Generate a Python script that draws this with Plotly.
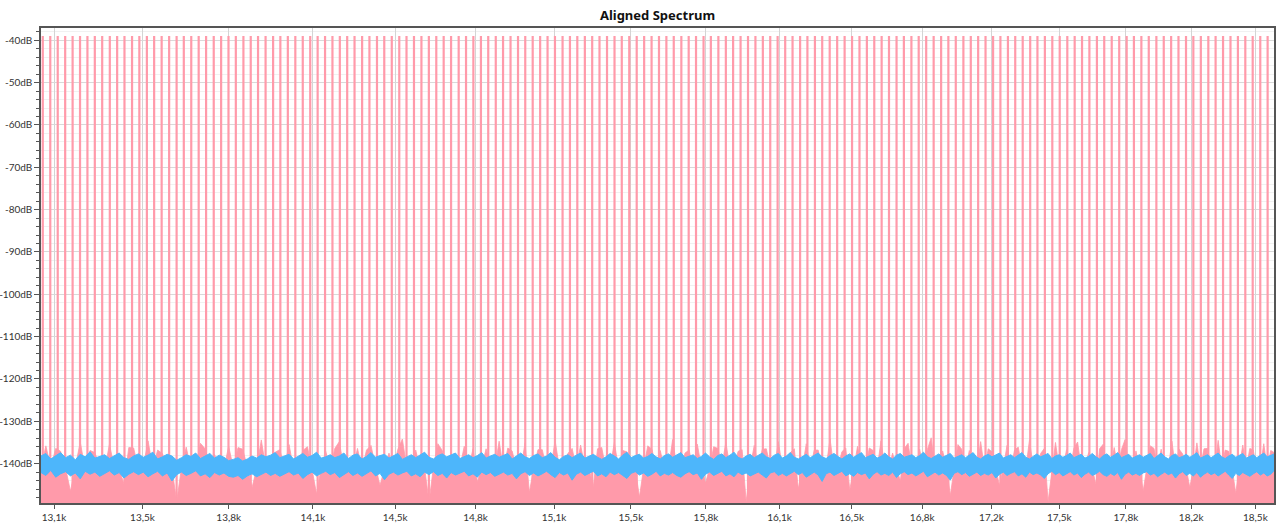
import numpy as np
import plotly.graph_objects as go

# ---------------- data ----------------
title_text = "Aligned Spectrum"

# x tick positions (Hz) and their labels
x_tick_vals = [13120, 13456, 13792, 14128, 14464, 14800, 15136, 15472, 15808,
               16144, 16480, 16816, 17152, 17488, 17824, 18160, 18496]
x_tick_text = ["13,1k", "13,5k", "13,8k", "14,1k", "14,5k", "14,8k", "15,1k", "15,5k", "15,8k",
               "16,1k", "16,5k", "16,8k", "17,2k", "17,5k", "17,8k", "18,2k", "18,5k"]

y_tick_vals = [-40, -50, -60, -70, -80, -90, -100, -110, -120, -130, -140]
y_tick_text = ["-40dB", "-50dB", "-60dB", "-70dB", "-80dB", "-90dB", "-100dB",
               "-110dB", "-120dB", "-130dB", "-140dB"]

# multitone frequencies (Hz) and level (dB)
tone_freqs = [
    13078, 13106, 13134, 13162, 13190, 13218, 13246, 13274, 13302, 13331,
    13359, 13387, 13416, 13444, 13473, 13501, 13530, 13559, 13588, 13616,
    13645, 13674, 13703, 13733, 13762, 13791, 13820, 13850, 13879, 13908,
    13938, 13968, 13997, 14027, 14057, 14087, 14117, 14147, 14177, 14207,
    14237, 14267, 14297, 14328, 14358, 14389, 14419, 14450, 14481, 14511,
    14542, 14573, 14604, 14635, 14666, 14697, 14729, 14760, 14791, 14823,
    14854, 14886, 14917, 14949, 14981, 15012, 15044, 15076, 15108, 15140,
    15173, 15205, 15237, 15270, 15302, 15334, 15367, 15400, 15432, 15465,
    15498, 15531, 15564, 15597, 15630, 15663, 15697, 15730, 15763, 15797,
    15830, 15864, 15898, 15931, 15965, 15999, 16033, 16067, 16101, 16135,
    16170, 16204, 16239, 16273, 16308, 16342, 16377, 16412, 16447, 16482,
    16517, 16552, 16587, 16622, 16657, 16693, 16728, 16764, 16799, 16835,
    16871, 16907, 16942, 16978, 17015, 17051, 17087, 17123, 17160, 17196,
    17233, 17269, 17306, 17343, 17379, 17416, 17453, 17490, 17528, 17565,
    17602, 17639, 17677, 17714, 17752, 17790, 17828, 17865, 17903, 17941,
    17980, 18018, 18056, 18094, 18133, 18171, 18210, 18249, 18287, 18326,
    18365, 18404, 18443, 18482, 18522, 18561,
]
tone_level = -39.0
floor_level = -150.0

# noise-floor bins
freq_start = 13071
freq_stop = 18596
n_bins = 300

# reference (blue) spectrum: per-bin upper / lower envelope (dB)
blue_hi = [
    -138.2, -137.6, -138.9, -138.1, -137.4, -138.6, -138.0, -139.1, -137.8, -138.4, -137.2, -138.7, -138.3, -137.9, -138.8, -138.1, -137.5, -138.6, -139.0, -138.2,
    -137.7, -138.5, -138.0, -137.3, -138.9, -138.4, -137.8, -138.2, -139.2, -138.6, -137.9, -138.3, -137.5, -138.8, -138.1, -137.6, -138.7, -138.0, -138.5, -139.3,
    -139.0, -138.6, -139.4, -138.9, -138.2, -138.7, -137.9, -138.4, -138.0, -137.4, -138.6, -138.2, -137.8, -138.9, -138.3, -137.6, -138.5, -138.1, -137.3, -138.7,
    -138.4, -137.9, -138.6, -138.2, -137.5, -138.8, -138.0, -137.7, -138.9, -138.3, -137.4, -138.5, -138.1, -137.8, -138.7, -138.2, -137.6, -139.0, -138.4, -137.9,
    -138.6, -138.0, -137.3, -138.5, -138.9, -138.1, -137.7, -138.4, -138.0, -137.5, -138.8, -138.3, -137.9, -138.6, -138.1, -137.4, -138.7, -138.2, -137.8, -138.5,
    -138.0, -137.6, -138.9, -138.3, -137.5, -138.4, -138.8, -138.1, -137.7, -138.6, -138.2, -137.4, -138.5, -139.1, -138.3, -137.9, -138.6, -138.0, -137.5, -138.7,
    -138.3, -137.8, -138.5, -139.0, -138.4, -137.6, -138.2, -138.9, -138.0, -137.3, -138.6, -138.1, -137.8, -138.7, -138.3, -137.6, -138.4, -138.9, -138.1, -137.7,
    -138.5, -138.0, -137.4, -138.6, -138.2, -137.9, -138.8, -138.3, -137.5, -138.4, -139.0, -138.1, -137.7, -138.6, -138.0, -137.3, -138.5, -138.9, -138.2, -137.8,
    -138.6, -138.1, -137.5, -138.4, -138.8, -138.0, -137.6, -138.7, -138.2, -137.4, -138.5, -138.9, -138.3, -137.8, -138.6, -138.0, -137.5, -138.4, -138.8, -138.1,
    -137.6, -138.3, -138.9, -138.2, -137.7, -138.5, -138.0, -137.4, -138.6, -138.1, -137.8, -138.7, -138.3, -137.5, -138.4, -138.9, -138.0, -137.6, -138.5, -138.2,
    -137.9, -138.6, -138.1, -137.3, -138.4, -138.8, -138.2, -137.7, -138.5, -138.0, -137.6, -138.7, -138.3, -137.9, -138.6, -138.1, -137.4, -138.5, -138.9, -138.2,
    -137.8, -138.4, -138.0, -137.5, -138.7, -138.2, -137.9, -138.6, -138.1, -137.4, -138.5, -138.9, -138.3, -137.7, -138.4, -138.0, -137.6, -138.8, -138.2, -137.9,
    -138.5, -138.1, -137.5, -138.6, -138.2, -137.8, -138.7, -138.3, -137.6, -138.4, -138.9, -138.1, -137.7, -138.5, -138.0, -137.4, -138.6, -138.2, -137.8, -138.7,
    -138.3, -137.9, -138.5, -138.0, -137.6, -138.8, -138.2, -137.5, -138.4, -138.9, -138.1, -137.7, -138.6, -138.3, -137.8, -138.5, -138.0, -137.4, -138.7, -138.2,
    -137.9, -138.6, -138.1, -137.5, -138.4, -138.8, -138.2, -137.8, -138.5, -138.0, -137.6, -138.7, -138.3, -137.9, -138.6, -138.1, -137.5, -138.4, -138.0, -137.7,
]
blue_lo = [
    -142.1, -142.8, -141.6, -143.2, -142.4, -141.9, -142.9, -142.2, -143.6, -141.8, -142.5, -142.0, -143.0, -142.3, -141.7, -142.7, -142.1, -143.4, -142.5, -141.9,
    -142.6, -142.0, -143.1, -142.4, -141.8, -142.9, -142.2, -144.1, -142.6, -142.0, -142.8, -142.3, -141.7, -142.9, -142.4, -143.3, -142.1, -142.7, -142.2, -143.0,
    -143.2, -142.8, -143.7, -142.9, -142.4, -143.1, -142.5, -142.0, -142.8, -142.3, -143.0, -142.4, -141.9, -142.7, -142.2, -143.5, -142.6, -142.0, -142.9, -142.3,
    -141.8, -142.6, -142.1, -143.3, -142.5, -141.9, -142.8, -142.2, -143.0, -142.4, -141.7, -142.9, -142.3, -143.8, -142.5, -142.0, -142.7, -142.2, -141.8, -142.9,
    -142.4, -143.1, -142.0, -142.6, -141.9, -142.8, -142.3, -143.4, -142.1, -142.7, -142.2, -141.8, -142.9, -142.4, -143.2, -142.0, -142.6, -142.1, -143.0, -142.5,
    -142.0, -142.7, -142.3, -143.6, -142.4, -141.9, -142.8, -142.2, -142.9, -142.4, -141.8, -142.6, -143.3, -142.1, -142.7, -142.2, -143.9, -142.5, -142.0, -142.8,
    -142.3, -141.8, -142.9, -142.4, -143.1, -142.0, -142.6, -142.1, -142.8, -143.5, -142.3, -141.9, -142.7, -142.2, -143.0, -142.5, -141.8, -142.9, -142.3, -142.7,
    -142.1, -142.8, -143.2, -142.4, -141.9, -142.6, -142.2, -143.7, -142.5, -142.0, -142.8, -142.3, -141.8, -142.9, -142.4, -143.1, -142.0, -142.6, -142.2, -142.9,
    -142.5, -142.0, -142.7, -143.4, -142.2, -141.9, -142.8, -142.3, -142.9, -142.4, -141.8, -142.6, -142.1, -143.2, -142.5, -142.0, -142.7, -144.2, -142.4, -142.0,
    -142.8, -142.2, -141.8, -142.9, -142.4, -143.0, -142.1, -142.6, -142.2, -143.6, -142.5, -141.9, -142.7, -142.3, -142.8, -142.0, -143.3, -142.4, -141.9, -142.6,
    -142.2, -142.9, -142.4, -141.8, -143.1, -142.5, -142.0, -142.7, -142.2, -142.8, -143.9, -142.3, -141.9, -142.6, -142.1, -143.0, -142.5, -142.0, -142.8, -142.3,
    -142.7, -142.1, -143.4, -142.5, -142.0, -142.8, -142.3, -141.9, -142.9, -142.4, -143.2, -142.0, -142.6, -142.2, -142.7, -143.5, -142.4, -141.8, -142.6, -142.1,
    -142.9, -142.3, -141.9, -142.7, -142.2, -143.3, -142.5, -142.0, -142.8, -142.4, -141.8, -142.6, -143.0, -142.3, -142.8, -142.1, -143.7, -142.5, -142.0, -142.7,
    -142.3, -142.8, -142.2, -141.9, -142.7, -142.3, -143.1, -142.5, -142.0, -142.6, -142.2, -143.4, -142.4, -141.9, -142.8, -142.3, -142.9, -142.1, -143.2, -142.5,
    -142.0, -142.6, -142.2, -142.9, -142.4, -141.8, -142.7, -143.5, -142.3, -142.8, -142.1, -142.6, -143.0, -142.4, -141.9, -142.7, -142.2, -142.9, -142.5, -141.6,
]
# measured (pink) spectrum noise floor, per bin (dB)
pink_floor = [
    -141.2, -135.8, -140.9, -136.4, -137.1, -141.0, -146.5, -140.8, -134.9, -141.3, -136.9, -137.4, -140.7, -141.5, -135.4, -141.0, -141.2, -144.8, -136.2, -136.3,
    -141.3, -140.8, -134.6, -141.1, -136.8, -137.6, -140.9, -141.2, -148.9, -141.0, -136.1, -141.3, -140.8, -135.2, -136.5, -141.5, -137.8, -140.9, -141.2, -135.9,
    -141.0, -136.2, -136.6, -140.8, -145.7, -141.1, -134.4, -141.3, -140.9, -137.3, -136.7, -141.0, -135.5, -141.4, -140.8, -136.9, -136.0, -141.3, -147.2, -140.9,
    -137.1, -141.2, -136.4, -134.8, -141.4, -140.9, -141.1, -136.4, -141.3, -136.8, -135.7, -140.8, -145.1, -141.2, -137.5, -141.0, -136.6, -134.2, -141.1, -140.9,
    -136.8, -141.3, -141.0, -149.0, -140.8, -135.3, -136.9, -141.4, -137.4, -141.0, -140.9, -135.9, -141.3, -136.5, -144.3, -140.8, -136.5, -141.2, -141.0, -134.7,
    -141.4, -136.3, -137.0, -141.1, -141.3, -135.1, -146.8, -141.0, -136.7, -136.7, -141.2, -141.4, -134.5, -141.0, -140.9, -137.6, -136.4, -141.1, -135.6, -140.8,
    -141.2, -145.4, -136.5, -136.2, -141.4, -140.9, -135.0, -141.1, -136.9, -137.2, -140.8, -141.2, -147.9, -141.0, -135.8, -136.6, -140.9, -136.9, -141.1, -141.3,
    -134.3, -140.8, -141.2, -137.5, -136.8, -141.4, -135.4, -140.9, -144.6, -141.1, -136.0, -136.4, -140.8, -134.9, -141.2, -141.0, -137.1, -136.7, -149.0, -140.9,
    -135.7, -141.1, -136.6, -136.5, -140.8, -141.2, -134.8, -141.0, -141.4, -137.4, -136.5, -145.9, -141.1, -135.3, -141.3, -136.8, -136.8, -141.2, -141.0, -134.1,
    -141.4, -140.9, -137.2, -136.3, -146.2, -141.3, -135.9, -140.8, -141.2, -136.3, -136.9, -141.4, -134.6, -140.9, -141.1, -137.5, -141.3, -144.0, -136.4, -135.2,
    -141.2, -141.0, -136.6, -141.4, -136.7, -133.9, -141.1, -141.3, -137.0, -140.8, -147.5, -141.2, -135.5, -136.6, -141.4, -136.9, -140.9, -141.1, -134.8, -141.3,
    -136.5, -137.2, -141.2, -145.2, -141.0, -135.7, -141.4, -136.8, -136.1, -141.1, -141.3, -134.4, -140.8, -141.2, -137.6, -136.4, -149.0, -141.4, -135.0, -140.9,
    -141.1, -136.7, -141.3, -136.3, -134.9, -141.2, -141.0, -137.4, -141.4, -144.9, -136.5, -135.4, -141.1, -141.3, -136.2, -140.8, -136.7, -134.3, -141.0, -141.4,
    -137.0, -140.9, -146.4, -141.1, -135.8, -136.4, -140.8, -136.6, -141.2, -141.0, -134.7, -141.4, -136.6, -137.7, -141.1, -145.6, -141.3, -135.1, -140.8, -136.5,
    -136.4, -141.0, -141.4, -134.5, -140.9, -136.8, -137.1, -141.3, -147.0, -140.8, -135.6, -141.2, -136.4, -136.8, -141.4, -140.9, -135.3, -141.1, -136.9, -137.4,
]

# ---------------- styles ----------------
PINK = "#ff9aaa"
BLUE = "#4db6fb"
TICK_FONT = dict(family="Lato", size=10, color="#333333")

bins = np.linspace(freq_start, freq_stop, n_bins)

tone_x, tone_y = [], []
for f in tone_freqs:
    tone_x += [f, f, None]
    tone_y += [floor_level, tone_level, None]

fig = go.Figure()
# tones (drawn first, under the noise bands)
fig.add_trace(go.Scatter(x=tone_x, y=tone_y, mode="lines",
                         line=dict(color=PINK, width=2.2),
                         hoverinfo="skip", showlegend=False))
# baseline for pink fill
fig.add_trace(go.Scatter(x=[freq_start, freq_stop], y=[floor_level, floor_level], mode="lines",
                         line=dict(width=0, color=PINK), hoverinfo="skip", showlegend=False))
fig.add_trace(go.Scatter(x=bins, y=pink_floor, mode="lines", fill="tonexty",
                         fillcolor=PINK, line=dict(width=0.8, color=PINK),
                         showlegend=False))
# blue band
fig.add_trace(go.Scatter(x=bins, y=blue_lo, mode="lines",
                         line=dict(width=1, color=BLUE), showlegend=False))
fig.add_trace(go.Scatter(x=bins, y=blue_hi, mode="lines", fill="tonexty",
                         fillcolor=BLUE, line=dict(width=1, color=BLUE),
                         showlegend=False))

fig.update_layout(
    width=1280, height=527,
    margin=dict(l=41, r=6, t=28, b=24, autoexpand=False),
    paper_bgcolor="white", plot_bgcolor="white",
    font=dict(family="Noto Sans", size=11, color="#333333"),
    title=dict(text="<b>" + title_text + "</b>", x=657.5 / 1280, xanchor="center",
               y=1 - 15 / 527, yanchor="middle", yref="container", automargin=False,
               font=dict(family="Noto Sans", size=13, color="#111111")),
    showlegend=False,
)
fig.update_xaxes(
    type="log", range=[4.11632, 4.269393], automargin=False,
    tickmode="array", tickvals=x_tick_vals, ticktext=x_tick_text, tickfont=TICK_FONT,
    ticks="outside", ticklen=4, tickcolor="#555555",
    showgrid=True, gridcolor="#d4d4d4", gridwidth=1,
    showline=True, linecolor="#555555", linewidth=1.5, mirror=True,
    zeroline=False,
)
fig.update_yaxes(
    range=[-149.3, -37.1], automargin=False,
    tickmode="array", tickvals=y_tick_vals, ticktext=y_tick_text, tickfont=TICK_FONT,
    ticks="outside", ticklen=5, tickcolor="#555555",
    showgrid=True, gridcolor="#d9d9d9", gridwidth=1,
    minor=dict(tick0=-40, dtick=2, ticks="outside", ticklen=3, tickcolor="#555555",
               showgrid=True, gridcolor="#f1f1f1"),
    showline=True, linecolor="#555555", linewidth=1.5, mirror=True,
    zeroline=False,
)

# remove the default page margin so the 1280x527 figure fills the window exactly
fig.write_html("out.html",
               config={"displayModeBar": False},
               post_script="document.body.style.margin='0';document.body.style.overflow='hidden';")
